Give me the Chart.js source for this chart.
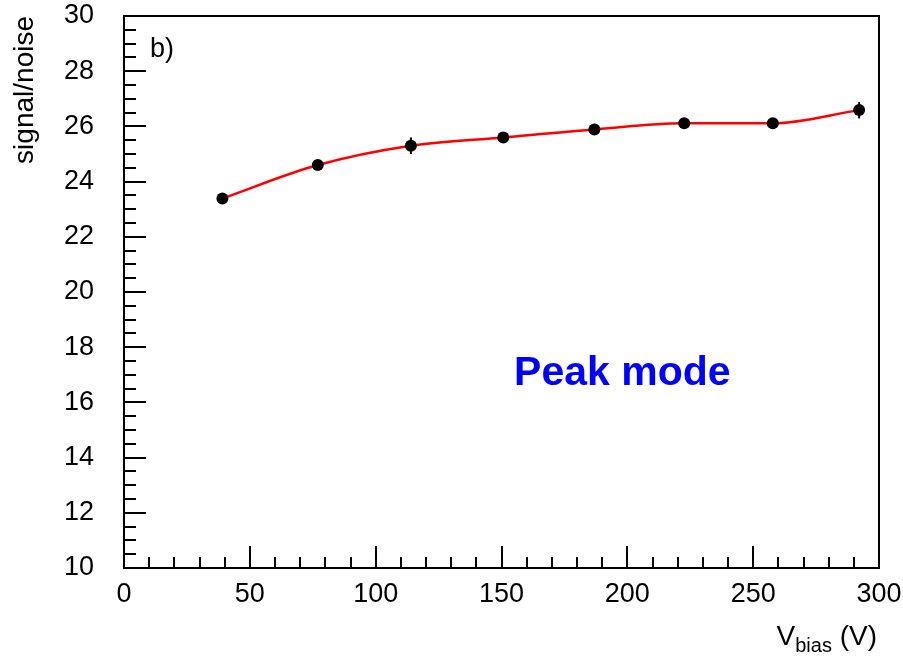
<!DOCTYPE html>
<html>
<head>
<meta charset="utf-8">
<script src="https://cdn.jsdelivr.net/npm/chart.js@4.4.1/dist/chart.umd.min.js"></script>
<style>
  html, body { margin: 0; padding: 0; background: #fff; }
  #wrap { width: 903px; height: 657px; }
</style>
</head>
<body>
<div id="wrap"><canvas id="snChart" width="903" height="657"></canvas></div>
<script>
// bias voltage (V) and measured signal/noise
const vbias = [39.1, 77.0, 114.0, 150.7, 186.9, 222.6, 257.8, 292.1];
const snr = [23.39, 24.60, 25.30, 25.60, 25.89, 26.11, 26.11, 26.59];
const snrErr = [0.12, 0.12, 0.30, 0.12, 0.12, 0.12, 0.12, 0.30];

const xTicks = [0, 50, 100, 150, 200, 250, 300];
const yTicks = [10, 12, 14, 16, 18, 20, 22, 24, 26, 28, 30];

const yTitle = 'signal/noise';
const xTitleMain = 'V';
const xTitleSub = 'bias';
const xTitleUnit = ' (V)';
const panelLabel = 'b)';
const modeLabel = 'Peak mode';

const FONT = '"Liberation Sans", Arial, Helvetica, sans-serif';

const points = vbias.map((v, i) => ({ x: v, y: snr[i] }));

// frame, inward ticks, error bars and text like the ROOT canvas
const rootStyle = {
  id: 'rootStyle',
  afterDatasetsDraw(chart) {
    const ctx = chart.ctx;
    const xs = chart.scales.x;
    const ys = chart.scales.y;
    const a = chart.chartArea;

    ctx.save();
    ctx.strokeStyle = '#000';
    ctx.lineWidth = 2;

    // error bars
    vbias.forEach((v, i) => {
      const px = xs.getPixelForValue(v);
      ctx.beginPath();
      ctx.moveTo(px, ys.getPixelForValue(snr[i] - snrErr[i]));
      ctx.lineTo(px, ys.getPixelForValue(snr[i] + snrErr[i]));
      ctx.stroke();
    });

    // frame
    ctx.strokeRect(a.left, a.top, a.right - a.left, a.bottom - a.top);

    // x ticks: major every 50, minor every 10
    const xMin = xTicks[0], xMax = xTicks[xTicks.length - 1];
    for (let v = xMin; v <= xMax; v += 10) {
      const px = Math.round(xs.getPixelForValue(v));
      const len = xTicks.includes(v) ? 22 : 11;
      ctx.beginPath();
      ctx.moveTo(px, a.bottom);
      ctx.lineTo(px, a.bottom - len);
      ctx.stroke();
    }
    // y ticks: major every 2, minor every 0.5
    const yMin = yTicks[0], yMax = yTicks[yTicks.length - 1];
    for (let v = yMin; v <= yMax + 1e-6; v += 0.5) {
      const py = Math.round(ys.getPixelForValue(v));
      const len = yTicks.includes(v) ? 22 : 12;
      ctx.beginPath();
      ctx.moveTo(a.left, py);
      ctx.lineTo(a.left + len, py);
      ctx.stroke();
    }

    ctx.fillStyle = '#000';
    ctx.textBaseline = 'alphabetic';
    ctx.textAlign = 'left';

    // panel label
    ctx.font = '27px ' + FONT;
    ctx.fillText(panelLabel, xs.getPixelForValue(10.3), ys.getPixelForValue(28.5));

    // x axis title with subscript, right aligned at the axis end
    const mainFont = '28px ' + FONT;
    const subFont = '20px ' + FONT;
    ctx.font = mainFont;
    const wV = ctx.measureText(xTitleMain).width;
    const wU = ctx.measureText(xTitleUnit).width;
    ctx.font = subFont;
    const wS = ctx.measureText(xTitleSub).width;
    const base = 645;
    let tx = a.right - 2 - (wV + wS + wU);
    ctx.font = mainFont;
    ctx.fillText(xTitleMain, tx, base);
    tx += wV;
    ctx.font = subFont;
    ctx.fillText(xTitleSub, tx, base + 7);
    tx += wS;
    ctx.font = mainFont;
    ctx.fillText(xTitleUnit, tx, base);

    // mode label
    ctx.fillStyle = '#0000ff';
    ctx.font = 'bold 41px ' + FONT;
    ctx.fillText(modeLabel, xs.getPixelForValue(155.0), ys.getPixelForValue(16.63));

    ctx.restore();
  }
};

new Chart(document.getElementById('snChart'), {
  type: 'scatter',
  data: {
    datasets: [
      {
        label: 'data',
        data: points,
        showLine: false,
        pointRadius: 6,
        pointBackgroundColor: '#000',
        pointBorderWidth: 0,
        pointHoverRadius: 6
      },
      {
        label: 'fit',
        data: points,
        showLine: true,
        borderColor: '#ff0000',
        borderWidth: 2.5,
        cubicInterpolationMode: 'monotone',
        pointRadius: 0,
        pointHoverRadius: 0
      }
    ]
  },
  options: {
    responsive: false,
    animation: false,
    layout: { padding: { top: 16, right: 24, bottom: 0, left: 0 } },
    plugins: {
      legend: { display: false },
      tooltip: { enabled: false }
    },
    scales: {
      x: {
        type: 'linear',
        min: xTicks[0],
        max: xTicks[xTicks.length - 1],
        grid: { display: false, drawTicks: false },
        border: { display: false },
        ticks: {
          stepSize: 50,
          color: '#000',
          padding: 10,
          font: { family: FONT, size: 27 }
        },
        afterFit(scale) {
          scale.height = 89;
          scale.paddingLeft = 0;
          scale.paddingRight = 0;
        }
      },
      y: {
        type: 'linear',
        min: yTicks[0],
        max: yTicks[yTicks.length - 1],
        grid: { display: false, drawTicks: false },
        border: { display: false },
        ticks: {
          stepSize: 2,
          color: '#000',
          padding: 30,
          font: { family: FONT, size: 27 }
        },
        title: {
          display: true,
          text: yTitle,
          align: 'end',
          color: '#000',
          padding: { top: 8, bottom: 0 },
          font: { family: FONT, size: 28 }
        },
        afterFit(scale) {
          scale.width = 124;
          scale.paddingTop = 0;
          scale.paddingBottom = 0;
        }
      }
    }
  },
  plugins: [rootStyle]
});
</script>
</body>
</html>
